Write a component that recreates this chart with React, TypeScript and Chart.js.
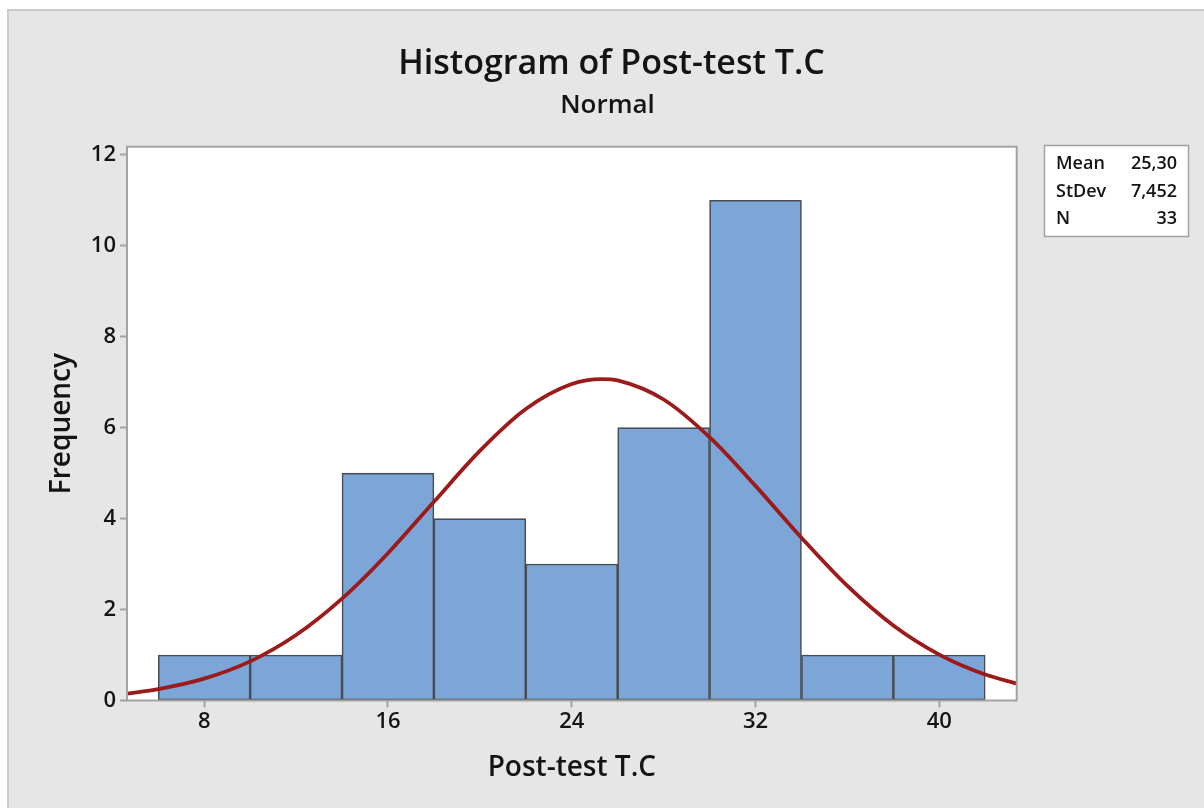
import React, { useEffect, useRef } from "react";
import { Chart, registerables } from "chart.js";

Chart.register(...registerables);

// ---- data ----
const binCenters = [8, 12, 16, 20, 24, 28, 32, 36, 40];
const frequencies = [1, 1, 5, 4, 3, 6, 11, 1, 1];

const curveX = [4.6, 6, 8, 10, 12, 14, 16, 18, 20, 22, 24, 25.3, 26, 28, 30, 32, 34, 36, 38, 40, 42, 43.4];
const curveY = [0.15, 0.25, 0.48, 0.86, 1.44, 2.24, 3.24, 4.37, 5.49, 6.41, 6.96, 7.07, 7.04, 6.62, 5.79, 4.72, 3.58, 2.52, 1.65, 1.01, 0.57, 0.37];

const xTickValues = [8, 16, 24, 32, 40];
const yTickValues = [0, 2, 4, 6, 8, 10, 12];

const statLabels = ["Mean", "StDev", "N"];
const statValues = ["25,30", "7,452", "33"];

const titleText = "Histogram of Post-test T.C";
const subtitleText = "Normal";
const xTitle = "Post-test T.C";
const yTitle = "Frequency";

const FONT = "'Open Sans', 'Noto Sans', sans-serif";
const TEXT = "#141414";
const AXIS_GRAY = "#a3a3a3";

const framePlugin = {
  id: "minitabFrame",
  beforeDraw(chart: any) {
    const { ctx, width, height, chartArea } = chart;
    ctx.save();
    ctx.fillStyle = "#ffffff";
    ctx.fillRect(0, 0, width, height);
    ctx.fillStyle = "#e6e6e6";
    ctx.fillRect(8, 9, width - 8, height - 9);
    ctx.strokeStyle = "#cbcbcb";
    ctx.lineWidth = 2;
    ctx.beginPath();
    ctx.moveTo(8, height);
    ctx.lineTo(8, 10);
    ctx.lineTo(width, 10);
    ctx.stroke();
    ctx.fillStyle = "#ffffff";
    ctx.fillRect(chartArea.left, chartArea.top, chartArea.right - chartArea.left, chartArea.bottom - chartArea.top);
    ctx.restore();
  },
  afterDraw(chart: any) {
    const { ctx, chartArea } = chart;
    ctx.save();
    // plot frame
    ctx.strokeStyle = AXIS_GRAY;
    ctx.lineWidth = 2;
    ctx.strokeRect(chartArea.left, chartArea.top, chartArea.right - chartArea.left, chartArea.bottom - chartArea.top);

    // titles
    ctx.fillStyle = TEXT;
    ctx.textAlign = "center";
    ctx.textBaseline = "alphabetic";
    ctx.font = `600 34px ${FONT}`;
    ctx.fillText(titleText, 611.5, 74);
    ctx.font = `600 26px ${FONT}`;
    ctx.fillText(subtitleText, 607.5, 113);

    // stats box
    const bx = 1044.5, by = 145.5, bw = 144, bh = 91;
    ctx.fillStyle = "#ffffff";
    ctx.fillRect(bx, by, bw, bh);
    ctx.strokeStyle = AXIS_GRAY;
    ctx.lineWidth = 1.5;
    ctx.strokeRect(bx, by, bw, bh);
    ctx.fillStyle = TEXT;
    ctx.font = `600 18px ${FONT}`;
    statLabels.forEach((lab, i) => {
      const y = 169 + i * 27.5;
      ctx.textAlign = "left";
      ctx.fillText(lab, 1056, y);
      ctx.textAlign = "right";
      ctx.fillText(statValues[i], 1177, y);
    });
    ctx.restore();
  },
};

export default function App() {
  const canvasRef = useRef<HTMLCanvasElement | null>(null);

  useEffect(() => {
    if (!canvasRef.current) return;
    const barData = binCenters.map((x, i) => ({ x, y: frequencies[i] }));
    const curveData = curveX.map((x, i) => ({ x, y: curveY[i] }));

    const chart = new Chart(canvasRef.current, {
      type: "bar",
      data: {
        datasets: [
          {
            type: "line",
            label: "Normal fit",
            data: curveData,
            borderColor: "#9c1a1a",
            borderWidth: 3.8,
            pointRadius: 0,
            tension: 0.4,
            cubicInterpolationMode: "monotone",
            fill: false,
            order: 0,
          } as any,
          {
            type: "bar",
            label: "Frequency",
            data: barData,
            backgroundColor: "#7ca6d8",
            borderColor: "#474d55",
            borderWidth: 1.6,
            borderSkipped: false,
            barPercentage: 1,
            categoryPercentage: 1,
            order: 1,
          } as any,
        ],
      },
      options: {
        responsive: false,
        maintainAspectRatio: false,
        animation: false,
        devicePixelRatio: 1,
        layout: { padding: { left: 0, right: 187.3, top: 146.7, bottom: 0 } },
        plugins: {
          legend: { display: false },
          tooltip: { enabled: false },
          title: { display: false },
        },
        scales: {
          x: {
            type: "linear",
            min: 4.64,
            max: 43.37,
            offset: false,
            afterBuildTicks: (s: any) => {
              s.ticks = xTickValues.map((v) => ({ value: v }));
            },
            afterFit: (s: any) => {
              s.height = 107.5;
            },
            grid: {
              display: true,
              offset: false,
              drawOnChartArea: false,
              drawTicks: true,
              tickLength: 7,
              tickColor: AXIS_GRAY,
              tickWidth: 2,
            },
            border: { display: false },
            ticks: {
              color: TEXT,
              padding: 1,
              font: { family: FONT, size: 22, weight: "600" },
              maxRotation: 0,
              autoSkip: false,
            },
            title: {
              display: true,
              text: xTitle,
              color: TEXT,
              font: { family: FONT, size: 28, weight: "600" },
              padding: { top: 0, bottom: 23 },
            },
          },
          y: {
            type: "linear",
            min: 0,
            max: 12.18,
            afterBuildTicks: (s: any) => {
              s.ticks = yTickValues.map((v) => ({ value: v }));
            },
            afterFit: (s: any) => {
              s.width = 127;
            },
            grid: {
              display: true,
              offset: false,
              drawOnChartArea: false,
              drawTicks: true,
              tickLength: 7,
              tickColor: AXIS_GRAY,
              tickWidth: 2,
            },
            border: { display: false },
            ticks: {
              color: TEXT,
              padding: 4,
              font: { family: FONT, size: 22, weight: "600" },
              autoSkip: false,
            },
            title: {
              display: true,
              text: yTitle,
              color: TEXT,
              font: { family: FONT, size: 28, weight: "600" },
              padding: { top: 45.2, bottom: 0 },
            },
          },
        },
      },
      plugins: [framePlugin],
    });

    return () => {
      chart.destroy();
    };
  }, []);

  return (
    <div style={{ position: "fixed", left: 0, top: 0, width: 1204, height: 808 }}>
      <canvas ref={canvasRef} width={1204} height={808} style={{ display: "block", width: 1204, height: 808 }} />
    </div>
  );
}
